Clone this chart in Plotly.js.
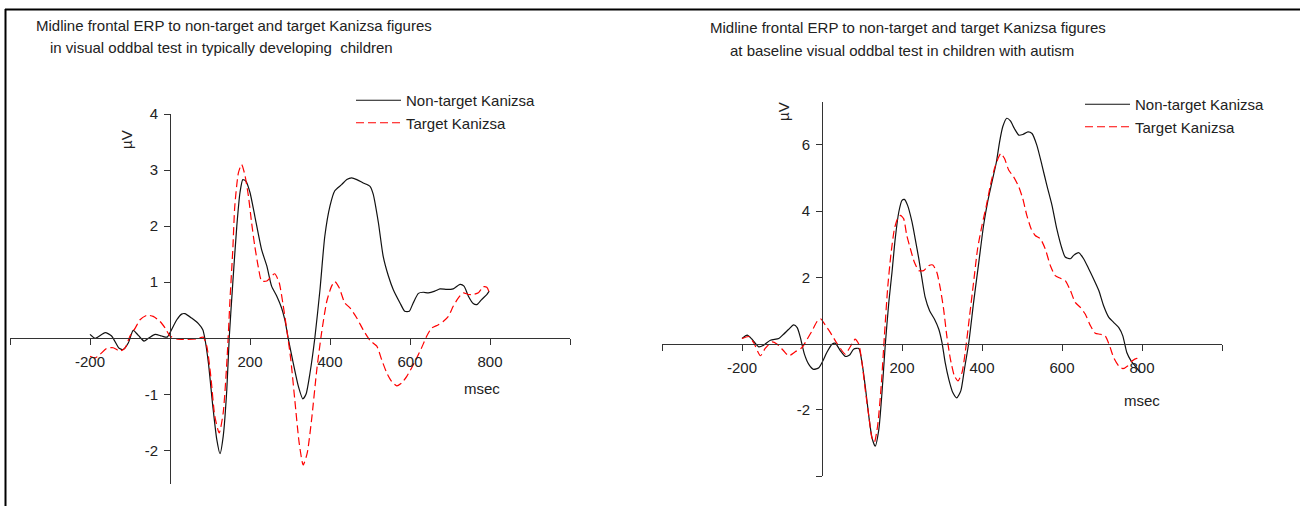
<!DOCTYPE html>
<html>
<head>
<meta charset="utf-8">
<script src="https://cdn.plot.ly/plotly-3.0.1.min.js"></script>
<style>
  html, body { margin: 0; padding: 0; background: #fff; }
  #chart { width: 1300px; height: 506px; }
</style>
</head>
<body>
<div id="chart"></div>
<script>
// ---------------- Data ----------------
const seriesNames = ["Non-target Kanizsa", "Target Kanizsa"];

const leftTitle1 = "Midline frontal ERP to non-target and target Kanizsa figures";
const leftTitle2 = "in visual oddbal test in typically developing  children";
const rightTitle1 = "Midline frontal ERP to non-target and target Kanizsa figures";
const rightTitle2 = "at baseline visual oddbal test in children with autism";

const xTickVals = [-400, -200, 0, 200, 400, 600, 800, 1000];
const xTickText = ["", "-200", "", "200", "400", "600", "800", ""];
const leftYTickVals = [-2, -1, 1, 2, 3, 4];
const leftYTickText = ["-2", "-1", "1", "2", "3", "4"];
const rightYTickVals = [-4, -2, 2, 4, 6];
const rightYTickText = ["", "-2", "2", "4", "6"];

// Left panel: typically developing children
const tdNonTargetMs = [-200,-187,-162,-146,-127,-117,-104,-92,-79,-65,-54,-37,-21,-7,0,17,29,37,54,71,82,87,96,107,117,125,133,142,148,157,167,175,182,190,200,212,229,242,254,267,279,287,296,308,321,332,340,350,362,375,387,400,412,429,442,454,467,483,500,508,521,533,546,558,575,587,598,608,621,633,646,662,675,692,708,725,735,746,758,767,779,792,798];
const tdNonTargetUv = [0.07,0.0,0.1,0.04,-0.18,-0.2,-0.08,0.14,0.05,-0.05,0.0,0.07,0.04,0.02,0.1,0.33,0.43,0.44,0.36,0.26,0.15,0.0,-0.44,-1.21,-1.81,-2.06,-1.75,-0.92,0,0.99,2.0,2.6,2.83,2.8,2.6,2.18,1.58,1.29,0.93,0.75,0.54,0.33,-0.02,-0.44,-0.86,-1.08,-1.0,-0.62,0,0.87,1.82,2.36,2.63,2.74,2.83,2.86,2.83,2.77,2.71,2.57,2.06,1.46,1.11,0.87,0.63,0.48,0.48,0.63,0.8,0.82,0.81,0.84,0.88,0.87,0.88,0.96,0.93,0.75,0.62,0.6,0.69,0.78,0.84];

const tdTargetMs = [-200,-187,-175,-158,-142,-125,-112,-100,-87,-75,-58,-42,-25,-12,0,17,42,67,83,92,102,112,123,133,143,150,157,162,171,179,187,196,204,212,221,229,242,254,262,273,282,292,302,312,323,333,343,354,367,379,392,404,412,423,437,450,467,483,500,517,529,542,554,567,579,592,604,617,629,642,654,671,683,696,708,721,733,746,758,771,783,792,798];
const tdTargetUv = [-0.32,-0.35,-0.29,-0.18,-0.17,-0.23,-0.17,0.04,0.18,0.33,0.41,0.39,0.3,0.18,0.04,-0.01,-0.02,-0.01,0.02,-0.14,-0.68,-1.39,-1.69,-1.33,-0.32,0.69,1.58,2.36,2.95,3.1,2.92,2.54,2.06,1.64,1.26,1.02,1.02,1.11,1.15,0.99,0.63,0.15,-0.38,-1.1,-1.87,-2.26,-2.05,-1.45,-0.56,0.1,0.66,0.93,1.01,0.9,0.63,0.54,0.36,0.15,-0.04,-0.14,-0.38,-0.62,-0.77,-0.85,-0.8,-0.68,-0.53,-0.35,-0.17,0.04,0.18,0.24,0.3,0.39,0.57,0.72,0.81,0.78,0.78,0.81,0.92,0.91,0.82];

// Right panel: children with autism (baseline)
const asdNonTargetMs = [-200,-187,-175,-158,-146,-129,-108,-96,-83,-71,-62,-54,-44,-33,-21,-8,2,12,25,33,46,58,69,79,92,100,108,117,125,133,142,150,158,167,175,183,192,200,206,214,225,233,242,250,258,269,281,292,300,308,317,327,337,347,356,367,379,392,404,414,425,436,444,452,462,471,481,492,502,515,525,537,550,562,575,587,600,608,621,629,642,654,667,679,692,704,717,729,742,752,762,773,783,796];
const asdNonTargetUv = [0.15,0.25,0.13,-0.1,-0.05,0.1,0.15,0.28,0.43,0.56,0.48,0.18,-0.32,-0.63,-0.78,-0.73,-0.53,-0.27,-0.02,0.01,-0.22,-0.39,-0.35,-0.17,-0.15,-0.58,-1.28,-2.19,-2.85,-3.1,-2.6,-1.48,-0.07,1.24,2.15,3.16,3.97,4.32,4.35,4.17,3.67,3.16,2.56,1.95,1.39,0.99,0.74,0.43,0.03,-0.58,-1.08,-1.48,-1.64,-1.43,-0.78,0.03,1.24,2.45,3.57,4.27,4.88,5.48,6.09,6.55,6.8,6.72,6.49,6.29,6.31,6.39,6.34,5.99,5.38,4.78,4.17,3.46,2.86,2.61,2.56,2.66,2.74,2.56,2.25,1.95,1.6,1.14,0.79,0.64,0.48,0.23,-0.27,-0.53,-0.68,-0.88];

const asdTargetMs = [-200,-183,-171,-154,-142,-125,-112,-96,-83,-67,-50,-37,-25,-11,-3,8,21,36,46,58,71,83,92,100,108,117,125,131,139,148,156,164,172,181,189,196,204,212,221,231,242,254,267,277,287,296,304,312,321,331,340,350,358,369,379,389,400,411,421,431,442,447,456,467,479,492,502,512,523,533,546,558,571,583,596,608,621,633,646,658,671,683,696,708,719,729,742,752,764,775,787,796];
const asdTargetUv = [0.15,0.21,0.03,-0.37,-0.15,0.05,-0.02,-0.22,-0.37,-0.25,-0.12,0.13,0.38,0.69,0.74,0.56,0.33,0.03,-0.15,-0.32,-0.09,0.13,-0.02,-0.58,-1.38,-2.19,-2.85,-2.98,-2.49,-1.28,0.23,1.65,2.66,3.46,3.77,3.87,3.77,3.26,2.86,2.45,2.2,2.2,2.35,2.37,2.15,1.65,1.04,0.23,-0.47,-0.98,-1.13,-0.88,-0.27,0.84,1.85,2.86,3.57,4.17,4.78,5.28,5.64,5.74,5.59,5.23,5.03,4.73,4.37,3.87,3.46,3.26,3.16,2.86,2.35,2.05,1.97,1.9,1.6,1.24,1.09,0.89,0.54,0.31,0.28,0.23,-0.07,-0.42,-0.68,-0.76,-0.68,-0.53,-0.45,-0.49];

// ---------------- Layout helpers ----------------
const W = 1300, H = 506;
const FONT = "Arial, 'Liberation Sans', sans-serif";
const AX = "#333333";
const px = x => x / W;
const py = y => 1 - y / H;

const xRange = [-400, 1000];
const leftYRange = [-2.6, 4];
const rightYRange = [-4, 7.3];

const leftXDom = [px(10), px(570)];
const leftYDom = [py(484), py(114)];
const rightXDom = [px(662), px(1222)];
const rightYDom = [py(476), py(101.7)];

// position of the value 0 inside a domain (axes cross at the origin)
const zeroPos = (dom, rng) => dom[0] + (0 - rng[0]) / (rng[1] - rng[0]) * (dom[1] - dom[0]);

function xAxis(dom, yDom, yRng) {
  return {
    domain: dom, range: xRange, anchor: "free", position: zeroPos(yDom, yRng),
    showline: true, linecolor: AX, linewidth: 1,
    ticks: "outside", ticklen: 6, tickcolor: AX, tickwidth: 1,
    ticklabelstandoff: 4,
    tickvals: xTickVals, ticktext: xTickText,
    tickfont: { family: FONT, size: 15, color: "#222" },
    showgrid: false, zeroline: false, fixedrange: true
  };
}
function yAxis(dom, rng, xDom, tv, tt) {
  return {
    domain: dom, range: rng, anchor: "free", position: zeroPos(xDom, xRange),
    showline: true, linecolor: AX, linewidth: 1,
    ticks: "outside", ticklen: 6, tickcolor: AX, tickwidth: 1,
    ticklabelstandoff: 3,
    tickvals: tv, ticktext: tt,
    tickfont: { family: FONT, size: 15, color: "#222" },
    showgrid: false, zeroline: false, fixedrange: true
  };
}

const lineSpline = { shape: "spline", smoothing: 0.6 };

const traces = [
  { x: tdNonTargetMs, y: tdNonTargetUv, xaxis: "x", yaxis: "y", name: seriesNames[0], legend: "legend",
    mode: "lines", line: Object.assign({ color: "#111", width: 1.2 }, lineSpline) },
  { x: tdTargetMs, y: tdTargetUv, xaxis: "x", yaxis: "y", name: seriesNames[1], legend: "legend",
    mode: "lines", line: Object.assign({ color: "#ff0000", width: 1.2, dash: "8px,4px" }, lineSpline) },
  { x: asdNonTargetMs, y: asdNonTargetUv, xaxis: "x2", yaxis: "y2", name: seriesNames[0], legend: "legend2",
    mode: "lines", line: Object.assign({ color: "#111", width: 1.2 }, lineSpline) },
  { x: asdTargetMs, y: asdTargetUv, xaxis: "x2", yaxis: "y2", name: seriesNames[1], legend: "legend2",
    mode: "lines", line: Object.assign({ color: "#ff0000", width: 1.2, dash: "8px,4px" }, lineSpline) }
];

function ann(text, x, y, opts) {
  return Object.assign({
    text: text, x: px(x), y: py(y), xref: "paper", yref: "paper",
    showarrow: false, xanchor: "center", yanchor: "middle",
    font: { family: FONT, size: 15, color: "#222" }
  }, opts || {});
}

const legendStyle = {
  orientation: "v", xanchor: "left", yanchor: "top",
  bgcolor: "rgba(0,0,0,0)", borderwidth: 0, itemwidth: 45,
  font: { family: FONT, size: 15, color: "#222" },
  itemclick: false, itemdoubleclick: false, tracegroupgap: 0
};

const layout = {
  width: W, height: H,
  margin: { l: 0, r: 0, t: 0, b: 0 },
  paper_bgcolor: "#ffffff", plot_bgcolor: "rgba(0,0,0,0)",
  showlegend: true,
  xaxis: xAxis(leftXDom, leftYDom, leftYRange),
  yaxis: yAxis(leftYDom, leftYRange, leftXDom, leftYTickVals, leftYTickText),
  xaxis2: xAxis(rightXDom, rightYDom, rightYRange),
  yaxis2: yAxis(rightYDom, rightYRange, rightXDom, rightYTickVals, rightYTickText),
  legend: Object.assign({ x: px(351), y: py(84) }, legendStyle),
  legend2: Object.assign({ x: px(1080), y: py(88) }, legendStyle),
  annotations: [
    ann(leftTitle1, 234, 25),
    ann(leftTitle2, 222, 47),
    ann(rightTitle1, 908, 27),
    ann(rightTitle2, 902, 51),
    ann("µV", 127, 140, { textangle: -90 }),
    ann("µV", 783, 112, { textangle: -90 }),
    ann("msec", 482, 388),
    ann("msec", 1142, 400)
  ],
  shapes: [
    { type: "line", xref: "paper", yref: "paper", x0: px(5), x1: 1, y0: py(9.5), y1: py(9.5),
      line: { color: "#000", width: 2 } },
    { type: "line", xref: "paper", yref: "paper", x0: px(5.5), x1: px(5.5), y0: py(9), y1: 0,
      line: { color: "#000", width: 2 } }
  ]
};

Plotly.newPlot("chart", traces, layout, { displayModeBar: false, staticPlot: true });
</script>
</body>
</html>
